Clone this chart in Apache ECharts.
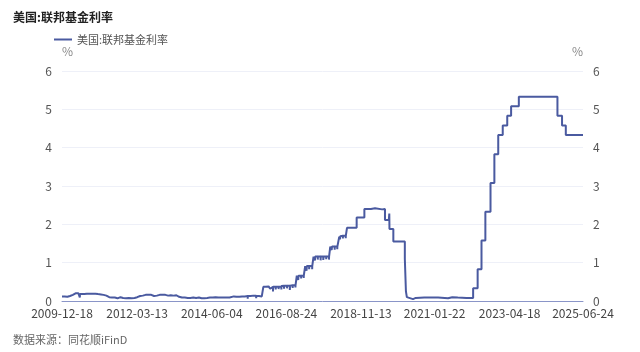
<!DOCTYPE html>
<html>
<head>
<meta charset="utf-8">
<script src="https://cdn.jsdelivr.net/npm/echarts@6/dist/echarts.min.js"></script>
<style>
    html, body { margin: 0; padding: 0; background: #fff; }
    #chart { width: 640px; height: 352px; }
</style>
</head>
<body>
<div id="chart"></div>
<script>
// 美国:联邦基金利率 (%), step data: value holds from date until next date
const rateDates = [
    "2009-12-18", "2010-01-15", "2010-02-15", "2010-03-15", "2010-04-15", "2010-05-14", "2010-06-15", "2010-06-30", "2010-07-01",
    "2010-08-16", "2010-09-15", "2010-10-15", "2010-11-15", "2010-12-15", "2011-01-14", "2011-02-15", "2011-03-15",
    "2011-04-15", "2011-05-16", "2011-06-15", "2011-07-15", "2011-08-15", "2011-09-15", "2011-10-14", "2011-11-15",
    "2011-12-15", "2012-01-13", "2012-02-15", "2012-03-15", "2012-04-16", "2012-05-15", "2012-06-15", "2012-07-16",
    "2012-08-15", "2012-09-14", "2012-10-15", "2012-11-15", "2012-12-14", "2013-01-15", "2013-02-15", "2013-03-15",
    "2013-04-15", "2013-05-15", "2013-06-14", "2013-07-15", "2013-08-15", "2013-09-16", "2013-10-15", "2013-11-15",
    "2013-12-16", "2014-01-15", "2014-02-14", "2014-03-14", "2014-04-15", "2014-05-15", "2014-06-16", "2014-07-15",
    "2014-08-15", "2014-09-15", "2014-10-15", "2014-11-14", "2014-12-15",
    "2015-01-30", "2015-02-02", "2015-02-27", "2015-03-02", "2015-03-31", "2015-04-01", "2015-04-30", "2015-05-01",
    "2015-05-29", "2015-06-01", "2015-06-30", "2015-07-01", "2015-07-31", "2015-08-03", "2015-08-31", "2015-09-01",
    "2015-09-30", "2015-10-01", "2015-10-30", "2015-11-02", "2015-11-30", "2015-12-01", "2015-12-17",
    "2016-01-15", "2016-01-19", "2016-01-29", "2016-02-01", "2016-02-12", "2016-02-16", "2016-02-29", "2016-03-01",
    "2016-03-15", "2016-03-16", "2016-03-31", "2016-04-01", "2016-04-15", "2016-04-18", "2016-04-29", "2016-05-02",
    "2016-05-16", "2016-05-17", "2016-05-31", "2016-06-01", "2016-06-15", "2016-06-16", "2016-06-30", "2016-07-01",
    "2016-07-15", "2016-07-18", "2016-07-29", "2016-08-01", "2016-08-15", "2016-08-16", "2016-08-31", "2016-09-01",
    "2016-09-15", "2016-09-16", "2016-09-30", "2016-10-03", "2016-10-14", "2016-10-17", "2016-10-31", "2016-11-01",
    "2016-11-15", "2016-11-16", "2016-11-30", "2016-12-01", "2016-12-15",
    "2016-12-30", "2017-01-03", "2017-01-17", "2017-01-18", "2017-01-31", "2017-02-01", "2017-02-15", "2017-02-16",
    "2017-02-28", "2017-03-01", "2017-03-16",
    "2017-03-31", "2017-04-03", "2017-04-17", "2017-04-18", "2017-04-28", "2017-05-01", "2017-05-15", "2017-05-16",
    "2017-05-31", "2017-06-01", "2017-06-15",
    "2017-06-30", "2017-07-03", "2017-07-17", "2017-07-18", "2017-07-31", "2017-08-01", "2017-08-15", "2017-08-16",
    "2017-08-31", "2017-09-01", "2017-09-15", "2017-09-18", "2017-09-29", "2017-10-02", "2017-10-16", "2017-10-17",
    "2017-10-31", "2017-11-01", "2017-11-15", "2017-11-16", "2017-11-30", "2017-12-01", "2017-12-14",
    "2017-12-29", "2018-01-02", "2018-01-16", "2018-01-17", "2018-01-31", "2018-02-01", "2018-02-15", "2018-02-16",
    "2018-02-28", "2018-03-01", "2018-03-22",
    "2018-03-29", "2018-04-02", "2018-04-16", "2018-04-17", "2018-04-30", "2018-05-01", "2018-05-15", "2018-05-16",
    "2018-05-31", "2018-06-01", "2018-06-14",
    "2018-06-29", "2018-07-02", "2018-09-27", "2018-12-20", "2019-03-01", "2019-04-15", "2019-05-01", "2019-07-01",
    "2019-08-01", "2019-09-12", "2019-09-17", "2019-09-19", "2019-10-31", "2020-03-04", "2020-03-16",
    "2020-03-26", "2020-04-01", "2020-06-01", "2020-07-01", "2020-10-01", "2020-12-01", "2021-03-01", "2021-06-17",
    "2021-08-02", "2021-10-01", "2022-01-03", "2022-03-17", "2022-05-05", "2022-06-16", "2022-07-28", "2022-09-22",
    "2022-11-03", "2022-12-15", "2023-02-02", "2023-03-23", "2023-05-04", "2023-07-27", "2024-09-19", "2024-11-08",
    "2024-12-19", "2025-06-24"
];
const rateValues = [
    0.12, 0.11, 0.13, 0.16, 0.20, 0.20, 0.18, 0.09, 0.18,
    0.19, 0.19, 0.19, 0.19, 0.18, 0.17, 0.16, 0.14,
    0.10, 0.09, 0.09, 0.07, 0.10, 0.08, 0.07, 0.08,
    0.07, 0.08, 0.10, 0.13, 0.14, 0.16, 0.16, 0.16,
    0.13, 0.14, 0.16, 0.16, 0.16, 0.14, 0.15, 0.14,
    0.15, 0.11, 0.09, 0.09, 0.08, 0.08, 0.09, 0.08,
    0.09, 0.07, 0.07, 0.08, 0.09, 0.09, 0.10, 0.09,
    0.09, 0.09, 0.09, 0.09, 0.12,
    0.08, 0.11, 0.07, 0.11, 0.06, 0.12, 0.08, 0.12,
    0.08, 0.13, 0.06, 0.13, 0.09, 0.14, 0.09, 0.14,
    0.07, 0.13, 0.08, 0.12, 0.08, 0.13, 0.37,
    0.34, 0.37, 0.33, 0.38, 0.35, 0.38, 0.32, 0.36,
    0.34, 0.37, 0.25, 0.37, 0.34, 0.37, 0.30, 0.37,
    0.34, 0.37, 0.31, 0.37, 0.34, 0.38, 0.30, 0.39,
    0.36, 0.40, 0.32, 0.40, 0.37, 0.40, 0.33, 0.40,
    0.37, 0.40, 0.29, 0.40, 0.37, 0.41, 0.34, 0.41,
    0.38, 0.41, 0.35, 0.41, 0.66,
    0.55, 0.66, 0.62, 0.66, 0.59, 0.66, 0.62, 0.66,
    0.60, 0.66, 0.91,
    0.79, 0.91, 0.87, 0.91, 0.83, 0.91, 0.87, 0.91,
    0.83, 0.91, 1.16,
    1.06, 1.16, 1.12, 1.16, 1.08, 1.16, 1.12, 1.16,
    1.06, 1.16, 1.12, 1.16, 1.07, 1.16, 1.12, 1.16,
    1.09, 1.16, 1.12, 1.16, 1.08, 1.16, 1.42,
    1.33, 1.42, 1.38, 1.42, 1.34, 1.42, 1.38, 1.42,
    1.35, 1.42, 1.68,
    1.61, 1.69, 1.65, 1.70, 1.63, 1.70, 1.66, 1.70,
    1.64, 1.70, 1.91,
    1.86, 1.91, 2.18, 2.40, 2.42, 2.44, 2.39, 2.40,
    2.11, 2.14, 2.28, 1.88, 1.55, 1.10, 0.25,
    0.10, 0.05, 0.08, 0.09, 0.09, 0.09, 0.07, 0.10,
    0.09, 0.08, 0.08, 0.33, 0.83, 1.58, 2.33, 3.08,
    3.83, 4.33, 4.58, 4.83, 5.08, 5.33, 4.83, 4.58,
    4.33, 4.33
];
const xTickDates = ["2009-12-18", "2012-03-13", "2014-06-04", "2016-08-24", "2018-11-13", "2021-01-22", "2023-04-18", "2025-06-24"];
const yMin = 0, yMax = 6, yStep = 1;

const FONT = "'Noto Sans CJK SC', 'Noto Sans', sans-serif";
const chart = echarts.init(document.getElementById("chart"));

// dates -> timestamps (UTC midnight) for a numeric x axis
const ts = (d) => Date.parse(d + "T00:00:00Z");
const seriesData = rateDates.map((d, i) => [ts(d), rateValues[i]]);

function fmtDate(v) {
    const d = new Date(v);
    const p = (n) => (n < 10 ? "0" + n : "" + n);
    return d.getUTCFullYear() + "-" + p(d.getUTCMonth() + 1) + "-" + p(d.getUTCDate());
}

const yAxisBase = {
    type: "value",
    min: yMin,
    max: yMax,
    interval: yStep,
    name: "%",
    nameLocation: "end",
    nameGap: 14,
    axisLine: { show: false },
    axisTick: { show: false },
    axisLabel: { color: "#555", fontSize: 12, fontFamily: FONT, margin: 10 },
};

chart.setOption({
    animation: false,
    backgroundColor: "#fff",
    title: [
        {
            text: "美国:联邦基金利率",
            left: 8,
            top: 6,
            textStyle: { fontSize: 12, fontWeight: "bold", color: "#222", fontFamily: FONT },
        },
        {
            text: "数据来源：同花顺iFinD",
            left: 8,
            top: 329,
            textStyle: { fontSize: 11, fontWeight: "normal", color: "#666", fontFamily: FONT },
        },
    ],
    legend: {
        left: 49,
        top: 29,
        icon: "rect",
        itemWidth: 18,
        itemHeight: 2,
        itemGap: 4,
        textStyle: { color: "#555", fontSize: 11, fontFamily: FONT },
        data: ["美国:联邦基金利率"],
    },
    grid: { left: 62, right: 57, top: 71, bottom: 51, containLabel: false },
    xAxis: {
        type: "value",
        min: ts(xTickDates[0]),
        max: ts(xTickDates[xTickDates.length - 1]),
        axisLine: { show: true, lineStyle: { color: "#8a95c8", width: 1 } },
        axisTick: { show: false },
        splitLine: { show: false },
        axisLabel: {
            customValues: xTickDates.map(ts),
            formatter: (v) => fmtDate(v),
            color: "#444",
            fontSize: 12,
            fontFamily: FONT,
            margin: 6,
            showMinLabel: true,
            showMaxLabel: true,
            hideOverlap: false,
        },
    },
    yAxis: [
        Object.assign({}, yAxisBase, {
            position: "left",
            nameTextStyle: { color: "#8a8a8a", fontSize: 12, fontFamily: FONT, align: "left" },
            splitLine: { show: true, lineStyle: { color: "#eef0f8", width: 1 } },
        }),
        Object.assign({}, yAxisBase, {
            position: "right",
            nameTextStyle: { color: "#8a8a8a", fontSize: 12, fontFamily: FONT, align: "right" },
            splitLine: { show: false },
        }),
    ],
    series: [
        {
            name: "美国:联邦基金利率",
            type: "line",
            yAxisIndex: 0,
            step: "end",
            showSymbol: false,
            symbol: "none",
            data: seriesData,
            lineStyle: { color: "#4a5aa0", width: 2 },
            itemStyle: { color: "#4a5aa0" },
        },
    ],
});
</script>
</body>
</html>
